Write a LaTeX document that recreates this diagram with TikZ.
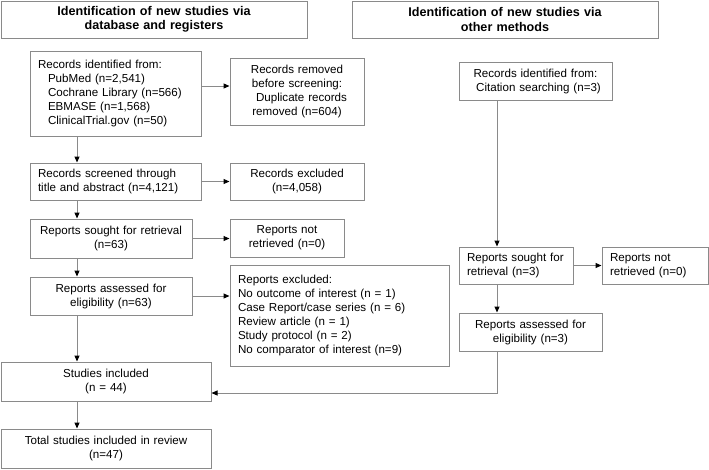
\documentclass[tikz,border=0pt]{standalone}
\usepackage{fontspec}
\setmainfont{Liberation Sans}
\usetikzlibrary{arrows.meta,calc}
\definecolor{edge}{HTML}{8A8A8A}
\begin{document}
\begin{tikzpicture}[x=1pt,y=-1pt,
  base/.style={draw=edge, line width=1pt, inner ysep=0pt, font=\fontsize{11.6}{14}\selectfont},
  cbox/.style={base, align=center, inner xsep=3pt},
  lbox/.style={base, align=left, inner xsep=8pt},
  hbox/.style={draw=edge, line width=1pt, inner ysep=0pt, inner xsep=3pt, align=center, font=\bfseries\fontsize{12.6}{14.5}\selectfont},
  arr/.style={draw=edge, line width=1pt, -{Triangle[length=6pt,width=5pt,color=black]}},
  ln/.style={draw=edge, line width=1pt}
]
\useasboundingbox (0,0) rectangle (709,469);
% boxes: center, width, height
\node[hbox, text width=300pt, minimum height=37pt] (hL) at (154,19.5) {Identification of new studies via\\database and registers};
\node[hbox, text width=300pt, minimum height=37pt] (hR) at (505,19.5) {Identification of new studies via\\other methods};

\node[lbox, text width=155pt, minimum height=85pt] (id) at (115.5,93.5) {Records identified from:\\
\hspace*{10pt}PubMed (n=2,541)\\
\hspace*{10pt}Cochrane Library (n=566)\\
\hspace*{10pt}EBMASE (n=1,568)\\
\hspace*{10pt}ClinicalTrial.gov (n=50)};
\node[cbox, text width=128pt, minimum height=67pt] (rem) at (297,91.5) {Records removed\\before screening:\\\hspace*{9pt}Duplicate records\\removed (n=604)};

\node[lbox, text width=155pt, minimum height=37pt] (scr) at (115.5,181.5) {Records screened through\\title and abstract (n=4,121)};
\node[cbox, text width=128pt, minimum height=37pt] (exc) at (297,181.5) {Records excluded\\(n=4,058)};

\node[cbox, text width=156pt, minimum height=39pt] (sou) at (111,238.5) {Reports sought for retrieval\\(n=63)};
\node[cbox, text width=108pt, minimum height=38pt] (nr) at (287,238) {Reports not\\retrieved (n=0)};

\node[cbox, text width=156pt, minimum height=38pt] (ass) at (111,296) {Reports assessed for\\eligibility (n=63)};
\node[lbox, text width=203pt, minimum height=101pt] (rex) at (339.5,315.5) {Reports excluded:\\
No outcome of interest (n = 1)\\
Case Report/case series (n = 6)\\
Review article (n = 1)\\
Study protocol (n = 2)\\
No comparator of interest (n=9)};

\node[cbox, text width=204pt, minimum height=39pt] (inc) at (106,381.5) {Studies included\\(n = 44)};
\node[cbox, text width=204pt, minimum height=39pt] (tot) at (106,448.5) {Total studies included in review\\(n=47)};

\node[cbox, text width=147pt, minimum height=38pt] (cit) at (535.5,81) {Records identified from:\\\hspace*{6pt}Citation searching (n=3)};
\node[lbox, text width=98pt, minimum height=37pt] (sou2) at (516,265.5) {Reports sought for\\retrieval (n=3)};
\node[lbox, text width=90pt, minimum height=37pt] (nr2) at (655,265.5) {Reports not\\retrieved (n=0)};
\node[cbox, text width=137pt, minimum height=38pt] (ass2) at (530.5,332) {Reports assessed for\\eligibility (n=3)};

% connector coordinates
\coordinate (lx) at (77,0);
\coordinate (rx) at (497,0);
\coordinate (y1) at (0,86);
\coordinate (j) at (497,393);

% left column vertical arrows
\draw[arr] (id.south -| lx) -- (scr.north -| lx);
\draw[arr] (scr.south -| lx) -- (sou.north -| lx);
\draw[arr] (sou.south -| lx) -- (ass.north -| lx);
\draw[arr] (ass.south -| lx) -- (inc.north -| lx);
\draw[arr] (inc.south -| lx) -- (tot.north -| lx);

% horizontal arrows
\draw[arr] (id.east |- y1) -- (rem.west |- y1);
\draw[arr] (scr.east) -- (scr.east -| exc.west);
\draw[arr] (sou.east) -- (sou.east -| nr.west);
\draw[arr] (ass.east) -- (ass.east -| rex.west);

% right column
\draw[arr] (cit.south -| rx) -- (sou2.north -| rx);
\draw[arr] (sou2.east) -- (sou2.east -| nr2.west);
\draw[arr] (sou2.south -| rx) -- (ass2.north -| rx);
\draw[arr] (ass2.south -| rx) -- (j) -- (inc.east |- j);
\end{tikzpicture}
\end{document}
